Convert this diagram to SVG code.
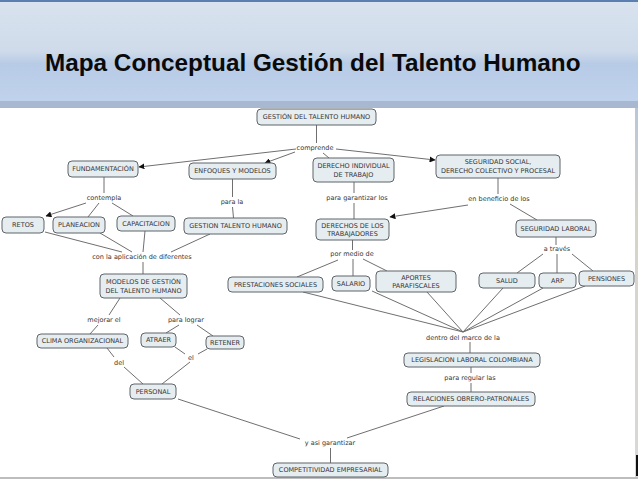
<svg xmlns="http://www.w3.org/2000/svg" width="638" height="479" viewBox="0 0 638 479">
<defs>
<linearGradient id="hdr" x1="0" y1="0" x2="0" y2="1">
<stop offset="0" stop-color="#d9e3ef"/>
<stop offset="0.5" stop-color="#cfdbea"/>
<stop offset="0.62" stop-color="#b8cbe6"/>
<stop offset="1" stop-color="#c0d2ec"/>
</linearGradient>
<linearGradient id="side" x1="0" y1="0" x2="0" y2="1">
<stop offset="0" stop-color="#b9c6d8"/>
<stop offset="0.3" stop-color="#d6d3c8"/>
<stop offset="1" stop-color="#d8d8d8"/>
</linearGradient>
<marker id="arr" viewBox="0 0 10 10" refX="9" refY="5" markerWidth="6" markerHeight="6" orient="auto" markerUnits="userSpaceOnUse">
<path d="M0,0 L10,5 L0,10 z" fill="#111"/>
</marker>
</defs>
<style>
.nd rect{fill:#e6edf1;stroke:#5e6468;stroke-width:1}
.nd text,.lb{font-family:"DejaVu Sans",Verdana,sans-serif;font-size:6.5px;fill:#353535;text-anchor:middle}
.cn line{stroke:#6f6f6f;stroke-width:1}
.cn .a{marker-end:url(#arr)}
</style>
<rect x="0" y="0" width="638" height="479" fill="#ffffff"/>
<rect x="0" y="0" width="638" height="102" fill="url(#hdr)"/>
<rect x="0" y="0" width="638" height="2" fill="#5a7fb0"/>
<rect x="0" y="101" width="638" height="7" fill="#a8b8d0"/>
<rect x="635" y="108" width="3" height="369" fill="url(#side)"/>
<rect x="636" y="455" width="2" height="21" fill="#111"/>
<rect x="0" y="477" width="638" height="2" fill="#bdbdbd"/>
<text x="45" y="71" font-family="'Liberation Sans',Arial,sans-serif" font-weight="bold" font-size="24.3" fill="#0a0a0a">Mapa Conceptual Gestión del Talento Humano</text>

<g id="connectors" class="cn">
<line x1="316.5" y1="125" x2="316.5" y2="143"/>
<line class="a" x1="296" y1="149" x2="139" y2="167"/>
<line class="a" x1="295" y1="152" x2="265" y2="163"/>
<line x1="323" y1="153" x2="329" y2="158"/>
<line class="a" x1="336" y1="149" x2="435" y2="160"/>
<line x1="104" y1="177" x2="104" y2="193"/>
<line class="a" x1="86" y1="203" x2="46" y2="216"/>
<line x1="99" y1="203" x2="88" y2="217"/>
<line x1="112" y1="203" x2="133" y2="216"/>
<line x1="232.5" y1="179" x2="232.5" y2="197"/>
<line x1="232.5" y1="207" x2="233.5" y2="218"/>
<line x1="354" y1="182" x2="354" y2="193"/>
<line x1="354" y1="203" x2="354" y2="219"/>
<line x1="498" y1="178" x2="498" y2="194"/>
<line class="a" x1="468" y1="205" x2="390" y2="217"/>
<line x1="510" y1="204" x2="537" y2="220"/>
<line x1="45" y1="232" x2="122" y2="252"/>
<line x1="100" y1="233" x2="132" y2="252"/>
<line x1="145" y1="231" x2="143" y2="252"/>
<line x1="210" y1="234" x2="171" y2="252"/>
<line x1="143" y1="262" x2="143" y2="274"/>
<line x1="120" y1="298" x2="109" y2="315"/>
<line x1="160" y1="298" x2="180" y2="315"/>
<line x1="98" y1="325" x2="90" y2="334"/>
<line x1="179" y1="325" x2="166" y2="333"/>
<line x1="197" y1="325" x2="213" y2="336"/>
<line x1="107" y1="348" x2="114" y2="357"/>
<line x1="175" y1="347" x2="185" y2="354"/>
<line x1="207" y1="349" x2="198" y2="354"/>
<line x1="124" y1="367" x2="143" y2="384"/>
<line x1="190" y1="362" x2="162" y2="384"/>
<line x1="178" y1="399" x2="300" y2="439"/>
<line x1="444" y1="406" x2="347" y2="438"/>
<line x1="330.5" y1="448" x2="330.5" y2="463"/>
<line x1="352.5" y1="240" x2="352.5" y2="250"/>
<line x1="338" y1="260" x2="297" y2="277"/>
<line x1="353" y1="259" x2="353" y2="276"/>
<line x1="363" y1="259" x2="387" y2="271"/>
<line x1="556" y1="237" x2="556" y2="245"/>
<line x1="543" y1="254" x2="517" y2="273"/>
<line x1="557" y1="254" x2="557" y2="273"/>
<line x1="572" y1="254" x2="593" y2="271"/>
<line x1="303" y1="292" x2="463" y2="332"/>
<line x1="372" y1="291" x2="463" y2="332"/>
<line x1="427" y1="292" x2="463" y2="332"/>
<line x1="503" y1="288" x2="463" y2="332"/>
<line x1="543" y1="288" x2="463" y2="332"/>
<line x1="585" y1="286" x2="463" y2="332"/>
<line x1="470" y1="342" x2="470" y2="353"/>
<line x1="471" y1="367" x2="471" y2="373"/>
<line x1="471" y1="383" x2="471" y2="392"/>
</g>

<g id="labels">
<text class="lb" x="315" y="150">comprende</text>
<text class="lb" x="104" y="200">contempla</text>
<text class="lb" x="232" y="204">para la</text>
<text class="lb" x="357" y="200">para garantizar los</text>
<text class="lb" x="499" y="201">en beneficio de los</text>
<text class="lb" x="142" y="259">con la aplicación de diferentes</text>
<text class="lb" x="352" y="256">por medio de</text>
<text class="lb" x="557" y="251">a través</text>
<text class="lb" x="104" y="322">mejorar el</text>
<text class="lb" x="186" y="322">para lograr</text>
<text class="lb" x="191" y="360">el</text>
<text class="lb" x="119" y="365">del</text>
<text class="lb" x="463" y="340">dentro del marco de la</text>
<text class="lb" x="470" y="380">para regular las</text>
<text class="lb" x="330" y="445">y asi garantizar</text>
</g>

<g id="n_gth" class="nd"><rect x="257" y="109" width="119" height="16" rx="4"/><text x="316.5" y="119.3">GESTIÓN DEL TALENTO HUMANO</text></g>
<g id="n_fund" class="nd"><rect x="68" y="161" width="70" height="16" rx="4"/><text x="103" y="171.3">FUNDAMENTACIÓN</text></g>
<g id="n_enf" class="nd"><rect x="189" y="163" width="87" height="16" rx="4"/><text x="232.5" y="173.3">ENFOQUES Y MODELOS</text></g>
<g id="n_dit" class="nd"><rect x="313" y="158" width="81" height="24" rx="4"/><text x="353.5" y="167.5">DERECHO INDIVIDUAL</text><text x="353.5" y="176.5">DE TRABAJO</text></g>
<g id="n_ss" class="nd"><rect x="436" y="155" width="124" height="23" rx="4"/><text x="498" y="164">SEGURIDAD SOCIAL,</text><text x="498" y="173">DERECHO COLECTIVO Y PROCESAL</text></g>
<g id="n_retos" class="nd"><rect x="2" y="217" width="42" height="16" rx="4"/><text x="23" y="227.3">RETOS</text></g>
<g id="n_plan" class="nd"><rect x="53" y="217" width="52" height="16" rx="4"/><text x="79" y="227.3">PLANEACION</text></g>
<g id="n_cap" class="nd"><rect x="117" y="216" width="58" height="15" rx="4"/><text x="146" y="225.8">CAPACITACION</text></g>
<g id="n_gth2" class="nd"><rect x="184" y="218" width="103" height="16" rx="4"/><text x="235.5" y="228.3">GESTION TALENTO HUMANO</text></g>
<g id="n_dlt" class="nd"><rect x="316" y="219" width="73" height="21" rx="4"/><text x="352.5" y="227.5">DERECHOS DE LOS</text><text x="352.5" y="236">TRABAJADORES</text></g>
<g id="n_sl" class="nd"><rect x="516" y="220" width="80" height="17" rx="4"/><text x="556" y="230.8">SEGURIDAD LABORAL</text></g>
<g id="n_mod" class="nd"><rect x="100" y="274" width="87" height="24" rx="4"/><text x="143.5" y="283.5">MODELOS DE GESTIÓN</text><text x="143.5" y="292.5">DEL TALENTO HUMANO</text></g>
<g id="n_prest" class="nd"><rect x="228" y="277" width="95" height="15" rx="4"/><text x="275.5" y="286.8">PRESTACIONES SOCIALES</text></g>
<g id="n_sal" class="nd"><rect x="332" y="276" width="38" height="15" rx="4"/><text x="351" y="285.8">SALARIO</text></g>
<g id="n_apor" class="nd"><rect x="376" y="271" width="80" height="21" rx="4"/><text x="416" y="279.5">APORTES</text><text x="416" y="288">PARAFISCALES</text></g>
<g id="n_salud" class="nd"><rect x="479" y="273" width="56" height="15" rx="4"/><text x="507" y="282.8">SALUD</text></g>
<g id="n_arp" class="nd"><rect x="539" y="273" width="37" height="15" rx="4"/><text x="557.5" y="282.8">ARP</text></g>
<g id="n_pens" class="nd"><rect x="579" y="271" width="55" height="15" rx="4"/><text x="606.5" y="280.8">PENSIONES</text></g>
<g id="n_clima" class="nd"><rect x="37" y="334" width="91" height="14" rx="4"/><text x="82.5" y="343.3">CLIMA ORGANIZACIONAL</text></g>
<g id="n_atraer" class="nd"><rect x="141" y="333" width="35" height="14" rx="4"/><text x="158.5" y="342.3">ATRAER</text></g>
<g id="n_retener" class="nd"><rect x="206" y="336" width="38" height="13" rx="4"/><text x="225" y="344.8">RETENER</text></g>
<g id="n_leg" class="nd"><rect x="404" y="353" width="136" height="14" rx="4"/><text x="472" y="362.3">LEGISLACION LABORAL COLOMBIANA</text></g>
<g id="n_rel" class="nd"><rect x="407" y="392" width="128" height="14" rx="4"/><text x="471" y="401.3">RELACIONES OBRERO-PATRONALES</text></g>
<g id="n_pers" class="nd"><rect x="130" y="384" width="46" height="15" rx="4"/><text x="153" y="393.8">PERSONAL</text></g>
<g id="n_comp" class="nd"><rect x="273" y="463" width="115" height="14" rx="4"/><text x="330.5" y="472.3">COMPETITIVIDAD EMPRESARIAL</text></g>
</svg>
